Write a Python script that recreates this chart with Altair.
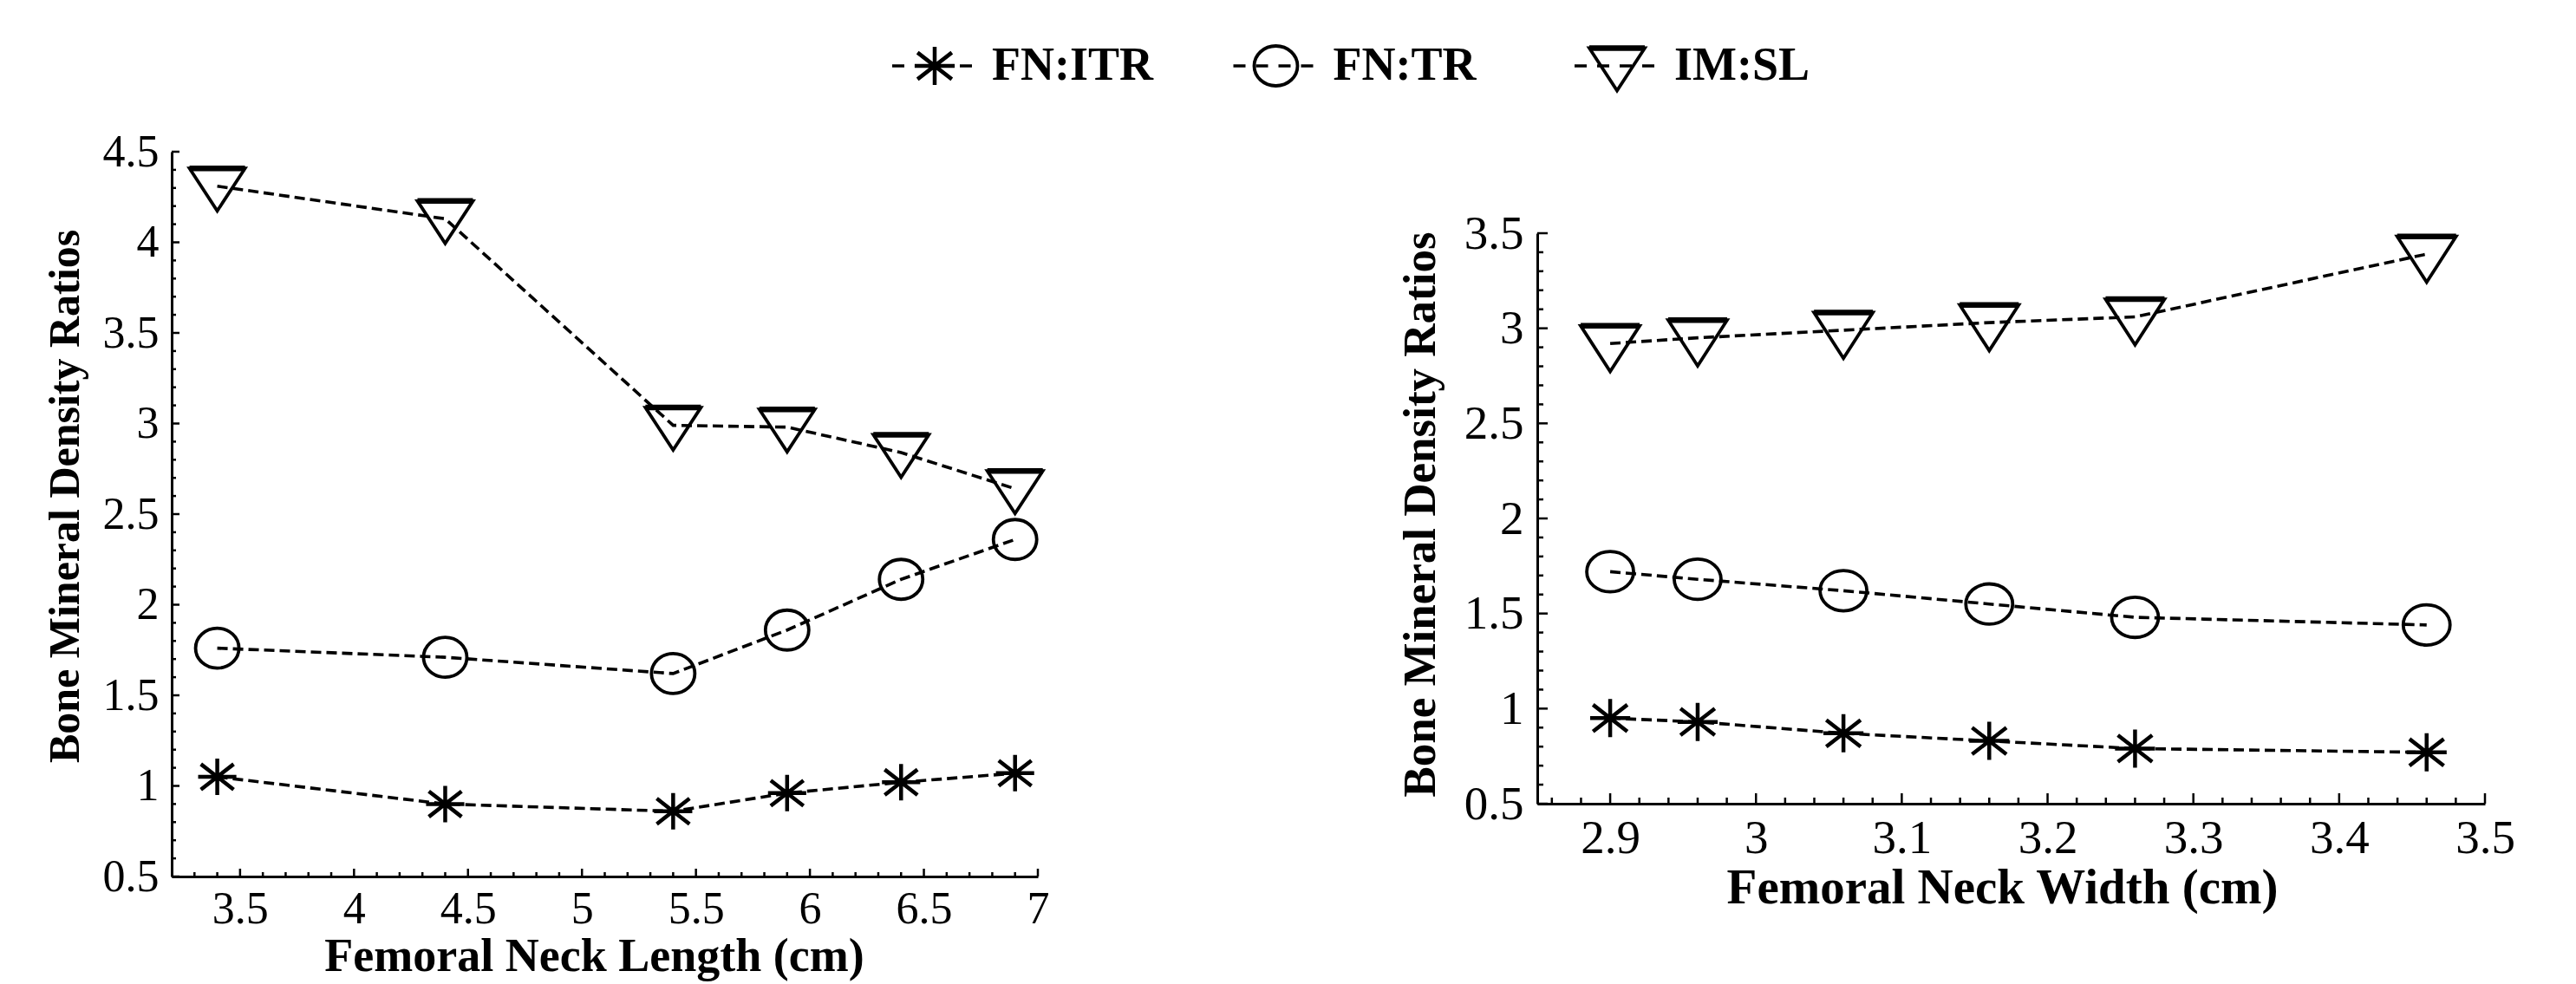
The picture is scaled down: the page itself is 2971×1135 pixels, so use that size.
import altair as alt
import pandas as pd

FONT = "Liberation Serif"
series_names = ["FN:ITR", "FN:TR", "IM:SL"]

# ---- Left panel: Femoral Neck Length (cm)
length_x = [3.4, 4.4, 5.4, 5.9, 6.4, 6.9]
length_itr = [1.05, 0.90, 0.86, 0.96, 1.02, 1.07]
length_tr = [1.76, 1.71, 1.62, 1.86, 2.14, 2.36]
length_sl = [4.31, 4.13, 2.99, 2.98, 2.84, 2.64]

# ---- Right panel: Femoral Neck Width (cm)
width_x = [2.90, 2.96, 3.06, 3.16, 3.26, 3.46]
width_itr = [0.95, 0.93, 0.87, 0.83, 0.79, 0.77]
width_tr = [1.72, 1.68, 1.62, 1.55, 1.48, 1.44]
width_sl = [2.92, 2.95, 2.99, 3.03, 3.06, 3.39]

# ---- tick values
left_x_major = [3.5, 4, 4.5, 5, 5.5, 6, 6.5, 7]
left_y_major = [0.5, 1, 1.5, 2, 2.5, 3, 3.5, 4, 4.5]
right_x_major = [2.9, 3.0, 3.1, 3.2, 3.3, 3.4, 3.5]
right_y_major = [0.5, 1, 1.5, 2, 2.5, 3, 3.5]


def minor_ticks(start, stop, step, major):
    n = int(round((stop - start) / step))
    vals = [round(start + i * step, 4) for i in range(n + 1)]
    return [v for v in vals if all(abs(v - m) > 1e-6 for m in major)]


left_x_minor = minor_ticks(3.3, 7.0, 0.1, left_x_major)
left_y_minor = minor_ticks(0.5, 4.5, 0.1, left_y_major)
right_x_minor = minor_ticks(2.86, 3.5, 0.02, right_x_major)
right_y_minor = minor_ticks(0.5, 3.5, 0.1, right_y_major)

ASTERISK = "M0,-1L0,1M-1.05,0L1.05,0M-0.9,-0.7L0.9,0.7M-0.9,0.7L0.9,-0.7"
ELLIPSE_L = "M-1,0A1,0.92,0,1,1,1,0A1,0.92,0,1,1,-1,0Z"
ELLIPSE_R = "M-1,0A1,0.86,0,1,1,1,0A1,0.86,0,1,1,-1,0Z"
TRI_L = "M-1,-0.64L1,-0.64L0,0.89Z"
TRI_L_TOP = "M-1,-0.64L1,-0.64"
TRI_R = "M-1,-0.6L1,-0.6L0,0.95Z"
TRI_R_TOP = "M-1,-0.6L1,-0.6"


def panel(xs, values, cfg):
    rows = []
    for name, ys in zip(series_names, values):
        for xv, yv in zip(xs, ys):
            rows.append({"x": xv, "y": yv, "series": name})
    df = pd.DataFrame(rows)

    xscale = alt.Scale(domain=cfg["xdom"], nice=False, zero=False)
    yscale = alt.Scale(domain=cfg["ydom"], nice=False, zero=False)
    xaxis = alt.Axis(
        values=cfg["xmajor"], format="~g", ticks=False, tickSize=0, grid=False,
        domainColor="black", domainWidth=3,
        labelFont=FONT, labelFontSize=cfg["tickfs"], labelColor="black",
        labelFontWeight="normal",
        labelPadding=cfg["xlabpad"], labelBaseline="alphabetic",
        labelFlush=False, labelOverlap=False,
        titleFont=FONT, titleFontSize=cfg["xtitlefs"], titleFontWeight="bold",
        titleColor="black", titleX=cfg["xtitleX"], titleY=cfg["xtitleY"],
        titleAlign="center", titleBaseline="alphabetic",
    )
    yaxis = alt.Axis(
        values=cfg["ymajor"], format="~g", ticks=False, tickSize=0, grid=False,
        domainColor="black", domainWidth=3,
        labelFont=FONT, labelFontSize=cfg["tickfs"], labelColor="black",
        labelFontWeight="normal",
        labelPadding=cfg["ylabpad"], labelFlush=False, labelOverlap=False,
        titleFont=FONT, titleFontSize=cfg["ytitlefs"], titleFontWeight="bold",
        titleColor="black", titleX=cfg["ytitleX"], titleY=cfg["ytitleY"],
        titleAlign="center", titleBaseline="alphabetic", titleAngle=270,
    )

    def X():
        return alt.X("x:Q", scale=xscale, axis=xaxis, title=cfg["xtitle"])

    def Y():
        return alt.Y("y:Q", scale=yscale, axis=yaxis, title=cfg["ytitle"])

    line = alt.Chart(df).mark_line(
        color="black", strokeWidth=3.6, strokeDash=[12, 6]
    ).encode(x=X(), y=Y(), detail="series:N", order="x:Q")

    layers = [line]
    shapes = [(cfg["ast"], cfg["ast_size"], 4.5), (cfg["ell"], cfg["ell_size"], 3.8),
              (cfg["tri"], cfg["tri_size"], 3.8)]
    for name, (shape, size, sw) in zip(series_names, shapes):
        layers.append(
            alt.Chart(df).transform_filter(alt.datum.series == name).mark_point(
                shape=shape, size=size, filled=False, stroke="black",
                strokeWidth=sw, opacity=1
            ).encode(x=X(), y=Y())
        )
    layers.append(
        alt.Chart(df).transform_filter(alt.datum.series == series_names[2]).mark_point(
            shape=cfg["tritop"], size=cfg["tri_size"], filled=False, stroke="black",
            strokeWidth=6.5, opacity=1
        ).encode(x=X(), y=Y())
    )

    h = cfg["h"]
    for vals, length in ((cfg["xmajor"], cfg["major"]), (cfg["xminor"], cfg["minor"])):
        layers.append(
            alt.Chart(pd.DataFrame({"x": vals})).mark_rule(color="black", strokeWidth=2.5)
            .encode(x=X(), y=alt.value(h), y2=alt.value(h - length))
        )
    for vals, length in ((cfg["ymajor"], cfg["major"]), (cfg["yminor"], cfg["minor"])):
        layers.append(
            alt.Chart(pd.DataFrame({"y": vals})).mark_rule(color="black", strokeWidth=2.5)
            .encode(y=Y(), x=alt.value(0), x2=alt.value(length))
        )
    return alt.layer(*layers).properties(width=cfg["w"], height=cfg["h"])


left = panel(length_x, [length_itr, length_tr, length_sl], dict(
    w=999, h=836, xdom=[3.2, 7.0], ydom=[0.5, 4.5],
    xmajor=left_x_major, xminor=left_x_minor, ymajor=left_y_major, yminor=left_y_minor,
    tickfs=52, xlabpad=53, ylabpad=15,
    xtitle="Femoral Neck Length (cm)", xtitlefs=54, xtitleX=487, xtitleY=108,
    ytitle="Bone Mineral Density Ratios", ytitlefs=50, ytitleX=-108, ytitleY=397,
    major=9, minor=5,
    ast=ASTERISK, ast_size=1764, ell=ELLIPSE_L, ell_size=2500,
    tri=TRI_L, tritop=TRI_L_TOP, tri_size=4096,
))

right = panel(width_x, [width_itr, width_tr, width_sl], dict(
    w=1093, h=658, xdom=[2.85, 3.5], ydom=[0.5, 3.5],
    xmajor=right_x_major, xminor=right_x_minor, ymajor=right_y_major, yminor=right_y_minor,
    tickfs=55, xlabpad=56, ylabpad=16,
    xtitle="Femoral Neck Width (cm)", xtitlefs=57, xtitleX=536, xtitleY=114,
    ytitle="Bone Mineral Density Ratios", ytitlefs=53, ytitleX=-119, ytitleY=324,
    major=12, minor=7,
    ast=ASTERISK, ast_size=1936, ell=ELLIPSE_R, ell_size=2916,
    tri=TRI_R, tritop=TRI_R_TOP, tri_size=4624,
))

# ---- legend
legend_df = pd.DataFrame({"series": series_names})
lx = alt.X("series:N", sort=series_names,
           scale=alt.Scale(type="point", domain=series_names, range=[880, 1667], padding=0),
           axis=None)
leg_layers = [
    alt.Chart(legend_df).mark_rule(
        color="black", strokeWidth=3.6, strokeDash=[14, 12], xOffset=-49, x2Offset=47
    ).encode(x=lx, x2=alt.X2("series"), y=alt.value(30))
]
leg_shapes = [(ASTERISK, 1936, 4.5), (ELLIPSE_L, 2500, 3.8), (TRI_L, 4096, 3.8), (TRI_L_TOP, 4096, 6.5)]
leg_names = [series_names[0], series_names[1], series_names[2], series_names[2]]
for name, (shape, size, sw) in zip(leg_names, leg_shapes):
    leg_layers.append(
        alt.Chart(legend_df).transform_filter(alt.datum.series == name).mark_point(
            shape=shape, size=size, filled=False, stroke="black", strokeWidth=sw, opacity=1
        ).encode(x=lx, y=alt.value(30))
    )
leg_layers.append(
    alt.Chart(legend_df).mark_text(
        align="left", baseline="middle", dx=66, font=FONT, fontSize=54,
        fontWeight="bold", color="black"
    ).encode(x=lx, y=alt.value(30), text="series:N")
)
legend = alt.layer(*leg_layers).properties(width=2100, height=60)

spacer = alt.Chart(pd.DataFrame({"s": [0]})).mark_point(opacity=0, size=1).encode(
    x=alt.value(5), y=alt.value(5)
).properties(width=10, height=67)

right_col = alt.vconcat(spacer, right, spacing=0).resolve_scale(x="independent", y="independent")
panels = alt.hconcat(left, right_col, spacing=395).resolve_scale(x="independent", y="independent")

chart = alt.vconcat(legend, panels, spacing=36).resolve_scale(
    x="independent", y="independent"
).properties(
    padding={"left": 41, "top": 34, "right": 5, "bottom": 5}
).configure_view(strokeWidth=0).configure_axis(
    labelFont=FONT, titleFont=FONT, labelFontWeight="normal"
).configure_text(font=FONT)

chart.save("out.html", embed_options={"renderer": "svg", "actions": False})
